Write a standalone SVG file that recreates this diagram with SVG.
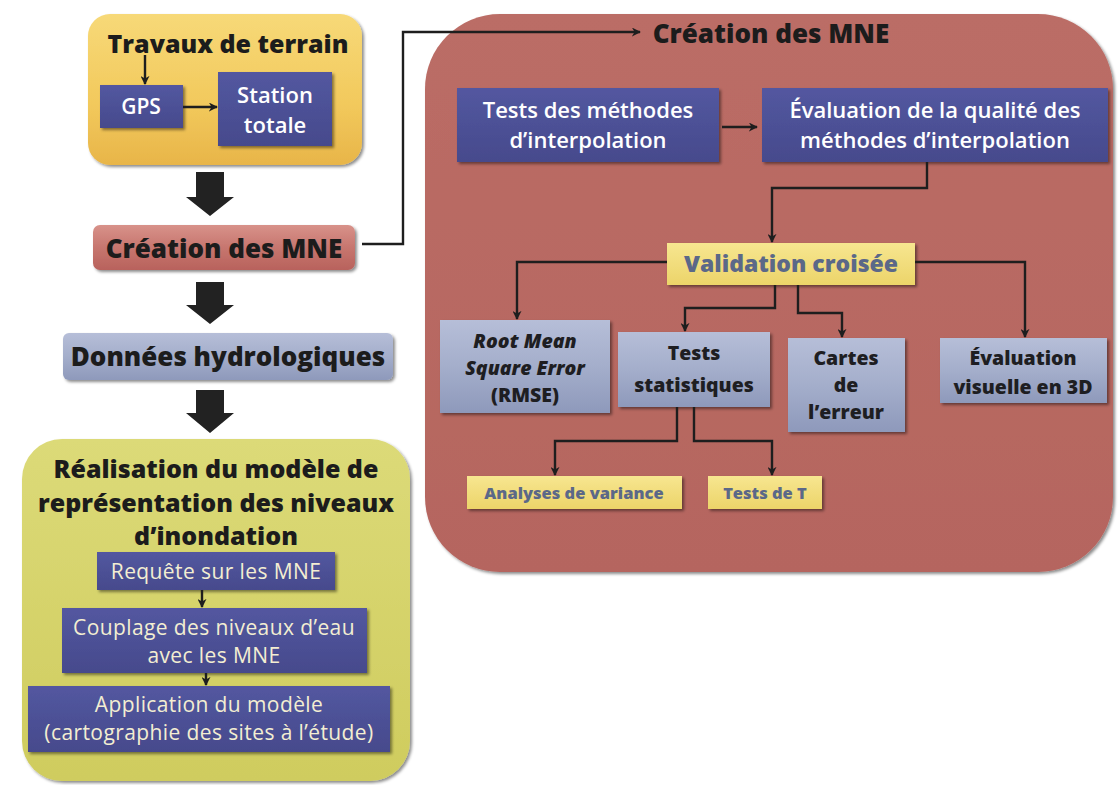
<svg xmlns="http://www.w3.org/2000/svg" width="1120" height="785" viewBox="0 0 1120 785">
  <defs>
    <linearGradient id="gOrange" x1="0" y1="0" x2="0" y2="1">
      <stop offset="0" stop-color="#f7d978"/>
      <stop offset="0.6" stop-color="#f2c95c"/>
      <stop offset="1" stop-color="#e8b549"/>
    </linearGradient>
    <linearGradient id="gOlive" x1="0" y1="0" x2="0" y2="1">
      <stop offset="0" stop-color="#dcda78"/>
      <stop offset="1" stop-color="#cfcc5e"/>
    </linearGradient>
    <linearGradient id="gRed" x1="0" y1="0" x2="0" y2="1">
      <stop offset="0" stop-color="#bb6d66"/>
      <stop offset="1" stop-color="#b5655f"/>
    </linearGradient>
    <linearGradient id="gPink" x1="0" y1="0" x2="0" y2="1">
      <stop offset="0" stop-color="#d8928a"/>
      <stop offset="0.5" stop-color="#c7766f"/>
      <stop offset="1" stop-color="#b8625c"/>
    </linearGradient>
    <linearGradient id="gSteel" x1="0" y1="0" x2="0" y2="1">
      <stop offset="0" stop-color="#b6bed8"/>
      <stop offset="0.5" stop-color="#a4aecb"/>
      <stop offset="1" stop-color="#8e99bb"/>
    </linearGradient>
    <linearGradient id="gBlue" x1="0" y1="0" x2="0" y2="1">
      <stop offset="0" stop-color="#5357a0"/>
      <stop offset="1" stop-color="#464a8c"/>
    </linearGradient>
    <linearGradient id="gYellow" x1="0" y1="0" x2="0" y2="1">
      <stop offset="0" stop-color="#f7e690"/>
      <stop offset="1" stop-color="#ecd469"/>
    </linearGradient>
    <filter id="shadow" x="-10%" y="-10%" width="125%" height="130%">
      <feDropShadow dx="2" dy="2" stdDeviation="1.8" flood-color="#000" flood-opacity="0.45"/>
    </filter>
    <marker id="arrow" viewBox="0 0 10 10" refX="9" refY="5" markerWidth="9" markerHeight="9" markerUnits="userSpaceOnUse" orient="auto">
      <path d="M0,0 L10,5 L0,10 L3,5 z" fill="#1e1e1e"/>
    </marker>
    <style>
      .title { font-family: "Open Sans", "DejaVu Sans", sans-serif; font-weight: 800; fill: #1c1c1c; text-anchor: middle; }
      .white { font-family: "Open Sans", "DejaVu Sans", sans-serif; font-weight: 600; fill: #ffffff; text-anchor: middle; }
      .cream { font-family: "Open Sans", "DejaVu Sans", sans-serif; font-weight: 400; fill: #f3eed2; text-anchor: middle; font-size: 21px; letter-spacing: 0.4px; }
      .dark { font-family: "Open Sans", "DejaVu Sans", sans-serif; font-weight: 800; fill: #1e1e22; text-anchor: middle; font-size: 19.5px; }
      .slate { font-family: "Open Sans", "DejaVu Sans", sans-serif; font-weight: 800; fill: #5b6888; text-anchor: middle; }
      .conn { fill: none; stroke: #1e1e1e; stroke-width: 2.4; }
      .block { fill: #222222; }
    </style>
  </defs>

  <rect x="0" y="0" width="1120" height="785" fill="#ffffff"/>

  <!-- Large container: MNE creation -->
  <g id="mne-container">
    <rect x="425" y="14" width="688" height="558" rx="75" ry="75" fill="url(#gRed)" filter="url(#shadow)"/>
    <text class="title" x="771" y="43" font-size="26">Création des MNE</text>
  </g>

  <!-- Field work -->
  <g id="travaux">
    <rect x="88" y="14" width="274" height="151" rx="22" fill="url(#gOrange)" filter="url(#shadow)"/>
    <text class="title" x="228" y="53" font-size="25">Travaux de terrain</text>
  </g>
  <g id="gps">
    <rect x="100" y="85" width="83" height="43" fill="url(#gBlue)" filter="url(#shadow)"/>
    <text class="white" x="141" y="114" font-size="21" font-weight="700">GPS</text>
  </g>
  <g id="station">
    <rect x="218" y="72" width="114" height="74" fill="url(#gBlue)" filter="url(#shadow)"/>
    <text class="white" x="275" y="103" font-size="22" font-weight="700">Station</text>
    <text class="white" x="275" y="133" font-size="22" font-weight="700">totale</text>
  </g>

  <!-- Left-column steps -->
  <g id="creation-mne">
    <rect x="93" y="225" width="262" height="45" rx="7" fill="url(#gPink)" filter="url(#shadow)"/>
    <text class="title" x="224" y="258" font-size="26">Création des MNE</text>
  </g>
  <g id="donnees">
    <rect x="63" y="333" width="330" height="47" rx="6" fill="url(#gSteel)" filter="url(#shadow)"/>
    <text class="title" x="228" y="366" font-size="26">Données hydrologiques</text>
  </g>

  <!-- Flood model -->
  <g id="modele">
    <rect x="22" y="439" width="388" height="342" rx="40" fill="url(#gOlive)" filter="url(#shadow)"/>
    <text class="title" x="216" y="478" font-size="25">Réalisation du modèle de</text>
    <text class="title" x="216" y="512" font-size="25">représentation des niveaux</text>
    <text class="title" x="216" y="545" font-size="25">d’inondation</text>
  </g>
  <g id="requete">
    <rect x="97" y="552" width="238" height="38" fill="url(#gBlue)" filter="url(#shadow)"/>
    <text class="cream" x="216" y="579">Requête sur les MNE</text>
  </g>
  <g id="couplage">
    <rect x="62" y="608" width="305" height="65" fill="url(#gBlue)" filter="url(#shadow)"/>
    <text class="cream" x="214" y="635">Couplage des niveaux d’eau</text>
    <text class="cream" x="214" y="663">avec les MNE</text>
  </g>
  <g id="application">
    <rect x="28" y="686" width="362" height="66" fill="url(#gBlue)" filter="url(#shadow)"/>
    <text class="cream" x="209" y="712">Application du modèle</text>
    <text class="cream" x="209" y="740">(cartographie des sites à l’étude)</text>
  </g>

  <!-- Interpolation steps -->
  <g id="tests-methodes">
    <rect x="457" y="88" width="262" height="74" fill="url(#gBlue)" filter="url(#shadow)"/>
    <text class="white" x="588" y="118" font-size="22">Tests des méthodes</text>
    <text class="white" x="588" y="148" font-size="22">d’interpolation</text>
  </g>
  <g id="evaluation-qualite">
    <rect x="762" y="88" width="346" height="74" fill="url(#gBlue)" filter="url(#shadow)"/>
    <text class="white" x="935" y="118" font-size="22">Évaluation de la qualité des</text>
    <text class="white" x="935" y="148" font-size="22">méthodes d’interpolation</text>
  </g>
  <g id="validation">
    <rect x="667" y="243" width="248" height="42" fill="url(#gYellow)" filter="url(#shadow)"/>
    <text class="slate" x="791" y="272" font-size="23">Validation croisée</text>
  </g>
  <g id="rmse">
    <rect x="440" y="320" width="170" height="93" fill="url(#gSteel)" filter="url(#shadow)"/>
    <text class="dark" x="525" y="348" font-style="italic">Root Mean</text>
    <text class="dark" x="525" y="375" font-style="italic">Square Error</text>
    <text class="dark" x="525" y="402">(RMSE)</text>
  </g>
  <g id="tests-stat">
    <rect x="618" y="332" width="152" height="75" fill="url(#gSteel)" filter="url(#shadow)"/>
    <text class="dark" x="694" y="360">Tests</text>
    <text class="dark" x="694" y="392">statistiques</text>
  </g>
  <g id="cartes">
    <rect x="788" y="338" width="117" height="94" fill="url(#gSteel)" filter="url(#shadow)"/>
    <text class="dark" x="846" y="365">Cartes</text>
    <text class="dark" x="846" y="392">de</text>
    <text class="dark" x="846" y="419">l’erreur</text>
  </g>
  <g id="eval-3d">
    <rect x="940" y="338" width="167" height="65" fill="url(#gSteel)" filter="url(#shadow)"/>
    <text class="dark" x="1023" y="365">Évaluation</text>
    <text class="dark" x="1023" y="394">visuelle en 3D</text>
  </g>
  <g id="anova">
    <rect x="467" y="476" width="215" height="33" fill="url(#gYellow)" filter="url(#shadow)"/>
    <text class="slate" x="574" y="499" font-size="16.5">Analyses de variance</text>
  </g>
  <g id="test-t">
    <rect x="708" y="476" width="114" height="33" fill="url(#gYellow)" filter="url(#shadow)"/>
    <text class="slate" x="765" y="499" font-size="16.5">Tests de T</text>
  </g>

  <!-- Connectors -->
  <g id="connectors">
    <path class="conn" d="M145,55 V84" marker-end="url(#arrow)"/>
    <path class="conn" d="M183,107 H217" marker-end="url(#arrow)"/>
    <path class="conn" d="M362,244 H403 V32 H640" marker-end="url(#arrow)"/>
    <path class="conn" d="M202,590 V607" stroke-width="1.6" marker-end="url(#arrow)"/>
    <path class="conn" d="M206,673 V685" stroke-width="1.6" marker-end="url(#arrow)"/>
    <path class="conn" d="M722,127 H757" marker-end="url(#arrow)"/>
    <path class="conn" d="M927,162 V188 H772 V242" marker-end="url(#arrow)"/>
    <path class="conn" d="M667,262 H517 V319" marker-end="url(#arrow)"/>
    <path class="conn" d="M775,285 V308 H685 V331" marker-end="url(#arrow)"/>
    <path class="conn" d="M798,285 V313 H842 V337" marker-end="url(#arrow)"/>
    <path class="conn" d="M915,262 H1025 V337" marker-end="url(#arrow)"/>
    <path class="conn" d="M677,407 V441 H555 V475" stroke-width="1.8" marker-end="url(#arrow)"/>
    <path class="conn" d="M694,407 V441 H772 V475" stroke-width="1.8" marker-end="url(#arrow)"/>
    <!-- thick block arrows between the left-column stages -->
    <polygon class="block" points="196,172 224,172 224,197 234,197 210,216 186,197 196,197"/>
    <polygon class="block" points="196,282 224,282 224,305 234,305 210,324 186,305 196,305"/>
    <polygon class="block" points="196,390 224,390 224,413 234,413 210,433 186,413 196,413"/>
  </g>
</svg>
